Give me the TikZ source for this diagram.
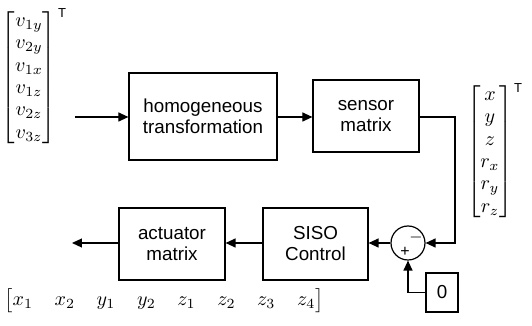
\documentclass[tikz,border=0pt]{standalone}
\usepackage{amsmath}
\usepackage{fontspec}
\setsansfont{Liberation Sans}
\usetikzlibrary{arrows.meta}
\tikzset{
  block/.style={draw, semithick, font=\sffamily\fontsize{9.4}{10.5}\selectfont, align=center, inner sep=0pt},
  sig/.style={-{Triangle[length=5pt,width=4.5pt]}, semithick},
  tp/.style={font=\sffamily\fontsize{6.5}{7}\selectfont, inner sep=0pt},
  sgn/.style={font=\sffamily\fontsize{8}{8}\selectfont, inner sep=0pt},
}
\renewcommand{\arraystretch}{0.93}
\begin{document}
\begin{tikzpicture}[x=0.5pt,y=-0.5pt]
\useasboundingbox (0,0) rectangle (532,326);
% input and output vectors
\node (vin) at (29,78) {$\begin{bmatrix} v_{1y}\\ v_{2y}\\ v_{1x}\\ v_{1z}\\ v_{2z}\\ v_{3z} \end{bmatrix}$};
\node[tp] at (62,13) {T};
\node (pose) at (490,152) {$\begin{bmatrix} x\\ y\\ z\\ r_x\\ r_y\\ r_z \end{bmatrix}$};
\node[tp] at (518,88) {T};
\node (act) at (164,301) {\setlength{\arraycolsep}{5.4pt}$\begin{bmatrix} x_1 & x_2 & y_1 & y_2 & z_1 & z_2 & z_3 & z_4 \end{bmatrix}$};
% blocks
\node[block, minimum width=74pt, minimum height=43.5pt] (homog) at (203,116.5) {homogeneous\\transformation};
\node[block, minimum width=53pt, minimum height=36pt] (sensor) at (366,116) {sensor\\matrix};
\node[block, minimum width=52.5pt, minimum height=36pt] (siso) at (315.5,244) {SISO\\Control};
\node[block, minimum width=53pt, minimum height=36pt] (actuator) at (172,244) {actuator\\matrix};
\node[block, minimum width=16pt, minimum height=19.5pt] (zero) at (442,292.5) {0};
\node[draw, semithick, circle, minimum size=17pt, inner sep=0pt] (sum) at (408,243) {};
\node[sgn] at ([shift={(8,-5)}]sum.center) {$-$};
\node[sgn] at ([shift={(-3,9)}]sum.center) {+};
\coordinate (start) at (75,117);
\coordinate (corner) at (455,117);
\coordinate (out) at (72,243);
% signal flow
\draw[sig] (start) -- (homog.west |- start);
\draw[sig] (homog.east |- start) -- (sensor.west |- start);
\draw[sig] (sensor.east |- corner) -- (corner) |- (sum.east);
\draw[sig] (zero.west) -| (sum.south);
\draw[sig] (sum.west) -- (siso.east |- sum.west);
\draw[sig] (siso.west |- sum.west) -- (actuator.east |- sum.west);
\draw[sig] (actuator.west |- out) -- (out);
\end{tikzpicture}
\end{document}
